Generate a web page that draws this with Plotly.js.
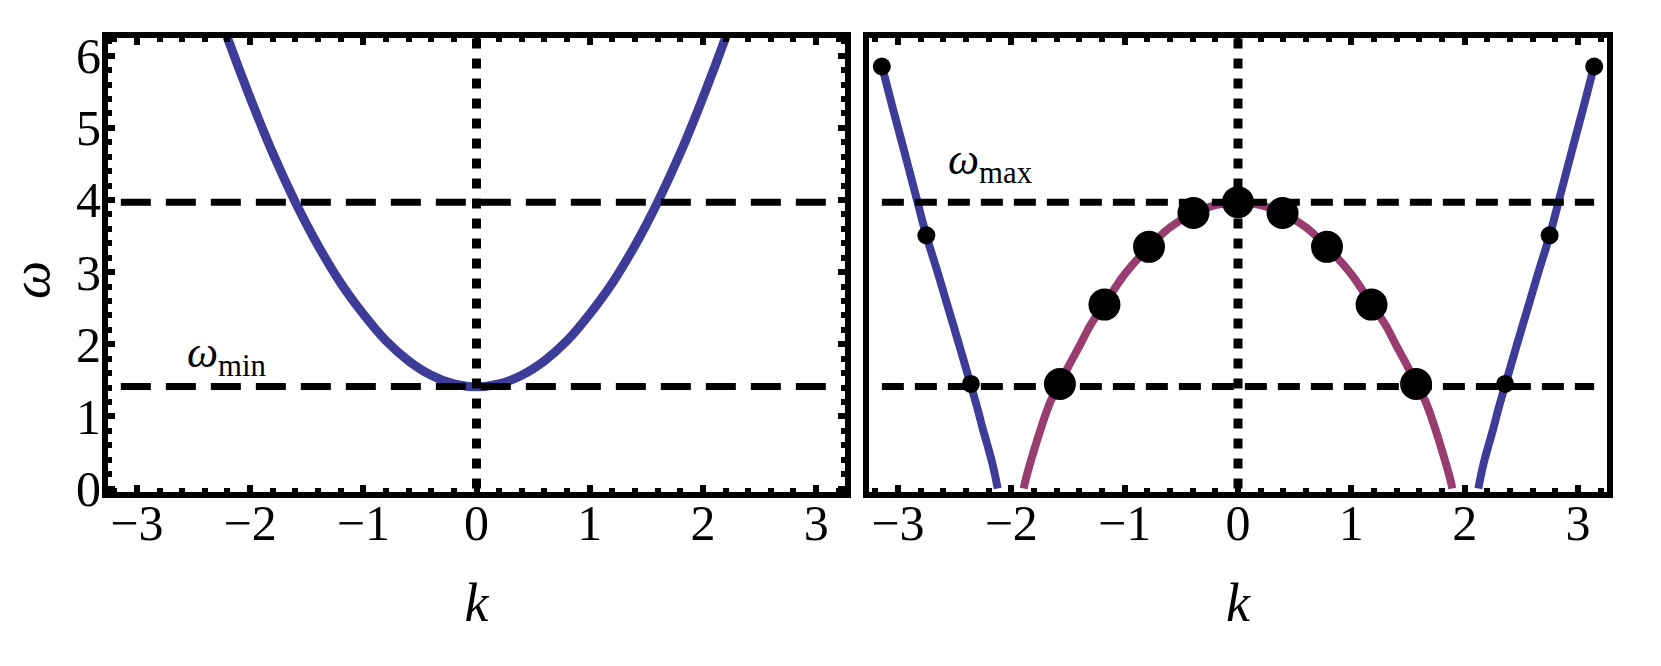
<!DOCTYPE html>
<html><head><meta charset="utf-8">
<script src="https://cdn.plot.ly/plotly-3.0.1.min.js"></script>
<style>html,body{margin:0;padding:0;background:#fff}</style>
</head><body><div id="chart" style="width:1661px;height:666px"></div>
<script>
// Reference levels
const omegaMin = 1.414;
const omegaMax = 3.97;
const kEdge = 3.1416;
const omegaTop = 6.2832;

// Left panel: continuum dispersion
const leftK =     [-2.3, -2.2, -2.0, -1.8, -1.6, -1.4, -1.2, -1.0, -0.8, -0.6, -0.4, -0.2, 0.0, 0.2, 0.4, 0.6, 0.8, 1.0, 1.2, 1.4, 1.6, 1.8, 2.0, 2.2, 2.3];
const leftOmega = [6.70, 6.25, 5.42, 4.65, 3.97, 3.37, 2.85, 2.42, 2.05, 1.77, 1.57, 1.45, 1.41, 1.45, 1.57, 1.77, 2.05, 2.42, 2.85, 3.37, 3.97, 4.65, 5.42, 6.25, 6.70];

// Right panel: blue outer branches
const blueLeftK =      [-3.14, -3.05, -2.95, -2.85, -2.75, -2.65, -2.55, -2.45, -2.36, -2.30, -2.25, -2.21, -2.17, -2.14, -2.12];
const blueLeftOmega =  [5.85, 5.30, 4.71, 4.11, 3.51, 3.00, 2.47, 1.94, 1.45, 1.12, 0.82, 0.60, 0.37, 0.16, 0.00];
const blueRightK =     [2.12, 2.14, 2.17, 2.21, 2.25, 2.30, 2.36, 2.45, 2.55, 2.65, 2.75, 2.85, 2.95, 3.05, 3.14];
const blueRightOmega = [0.00, 0.16, 0.37, 0.60, 0.82, 1.12, 1.45, 1.94, 2.47, 3.00, 3.51, 4.11, 4.71, 5.30, 5.85];

// Right panel: magenta arc
const arcK =     [-1.89, -1.88, -1.86, -1.82, -1.77, -1.71, -1.65, -1.57, -1.50, -1.40, -1.30, -1.18, -1.00, -0.785, -0.60, -0.39, -0.20, 0.00, 0.20, 0.39, 0.60, 0.785, 1.00, 1.18, 1.30, 1.40, 1.50, 1.57, 1.65, 1.71, 1.77, 1.82, 1.86, 1.88, 1.89];
const arcOmega = [0.00, 0.08, 0.20, 0.42, 0.68, 0.97, 1.22, 1.45, 1.68, 1.97, 2.27, 2.55, 2.97, 3.35, 3.62, 3.82, 3.93, 3.97, 3.93, 3.82, 3.62, 3.35, 2.97, 2.55, 2.27, 1.97, 1.68, 1.45, 1.22, 0.97, 0.68, 0.42, 0.20, 0.08, 0.00];

// Sampled points
const bigDotK =     [-1.571, -1.178, -0.785, -0.393, 0.0, 0.393, 0.785, 1.178, 1.571];
const bigDotOmega = [1.45, 2.55, 3.35, 3.82, 3.97, 3.82, 3.35, 2.55, 1.45];
const smallDotK =     [-3.142, -2.749, -2.356, 2.356, 2.749, 3.142];
const smallDotOmega = [5.85, 3.51, 1.45, 1.45, 3.51, 5.85];

const xTicks = [-3, -2, -1, 0, 1, 2, 3];
const yTicks = [0, 1, 2, 3, 4, 5, 6];

const BLUE = '#3d3d99';
const MAGENTA = '#993d71';

function line(x, y, xa, ya, color, width, dash, shape) {
  return {x: x, y: y, xaxis: xa, yaxis: ya, type: 'scatter', mode: 'lines', hoverinfo: 'skip',
          line: {color: color, width: width, dash: dash || 'solid', shape: shape || 'linear'}};
}

const traces = [
  line(leftK, leftOmega, 'x', 'y', BLUE, 9, 'solid', 'spline'),
  line([-kEdge, kEdge], [omegaMin, omegaMin], 'x', 'y', 'black', 7, '30px,15px'),
  line([-kEdge, kEdge], [omegaMax, omegaMax], 'x', 'y', 'black', 7, '30px,15px'),
  line([0, 0], [0, omegaTop], 'x', 'y', 'black', 9, '10px,10px'),

  line(blueLeftK, blueLeftOmega, 'x2', 'y2', BLUE, 8, 'solid', 'spline'),
  line(blueRightK, blueRightOmega, 'x2', 'y2', BLUE, 8, 'solid', 'spline'),
  line(arcK, arcOmega, 'x2', 'y2', MAGENTA, 8, 'solid', 'spline'),
  line([-kEdge, kEdge], [omegaMin, omegaMin], 'x2', 'y2', 'black', 7, '22px,11px'),
  line([-kEdge, kEdge], [omegaMax, omegaMax], 'x2', 'y2', 'black', 7, '22px,11px'),
  line([0, 0], [0, omegaTop], 'x2', 'y2', 'black', 9, '10px,10px'),
  {x: bigDotK, y: bigDotOmega, xaxis: 'x2', yaxis: 'y2', type: 'scatter', mode: 'markers', hoverinfo: 'skip',
   marker: {color: 'black', size: 32}},
  {x: smallDotK, y: smallDotOmega, xaxis: 'x2', yaxis: 'y2', type: 'scatter', mode: 'markers', hoverinfo: 'skip',
   marker: {color: 'black', size: 18}}
];

const FONT = 'Liberation Serif';
const W = 1661, H = 666;
const yDom = [(H - 491.5) / H, (H - 37.8) / H];

function xAxis(dom, anchor) {
  return {
    domain: dom, anchor: anchor, range: [-3.255, 3.255],
    showline: true, linewidth: 6, linecolor: 'black', mirror: 'ticks',
    ticks: 'inside', ticklen: 7, tickwidth: 6, tickcolor: 'black',
    tickmode: 'array', tickvals: xTicks,
    minor: {dtick: 0.2, tick0: 0, ticks: 'inside', ticklen: 4, tickwidth: 6, tickcolor: 'black', showgrid: false},
    showgrid: false, zeroline: false,
    tickfont: {family: FONT, size: 50, color: 'black'},
    ticklabelstandoff: -18,
    title: {text: '<i>k</i>', font: {family: FONT, size: 54, color: 'black'}, standoff: 36},
    fixedrange: true
  };
}

const layout = {
  width: W, height: H,
  margin: {l: 0, r: 0, t: 0, b: 0},
  showlegend: false,
  paper_bgcolor: 'white', plot_bgcolor: 'white',
  font: {family: FONT, color: 'black'},
  xaxis: xAxis([108 / W, 845 / W], 'y'),
  xaxis2: xAxis([869 / W, 1607 / W], 'y2'),
  yaxis: {
    domain: yDom, anchor: 'x', range: [-0.041, 6.248],
    showline: true, linewidth: 6, linecolor: 'black', mirror: 'ticks',
    ticks: 'inside', ticklen: 7, tickwidth: 6, tickcolor: 'black',
    tickmode: 'array', tickvals: yTicks,
    minor: {dtick: 0.2, tick0: 0, ticks: 'inside', ticklen: 4, tickwidth: 6, tickcolor: 'black', showgrid: false},
    showgrid: false, zeroline: false,
    tickfont: {family: FONT, size: 50, color: 'black'},
    ticklabelstandoff: -9,
    fixedrange: true
  },
  yaxis2: {
    domain: yDom, anchor: 'x2', range: [-0.041, 6.248],
    showline: true, linewidth: 6, linecolor: 'black', mirror: true,
    ticks: '', showticklabels: false, showgrid: false, zeroline: false, fixedrange: true
  },
  annotations: [
    {xref: 'paper', yref: 'paper', x: 31 / W, y: (H - 280) / H, text: '<i>ω</i>', textangle: -90,
     showarrow: false, xanchor: 'center', yanchor: 'middle',
     font: {family: FONT, size: 54, color: 'black'}},
    {xref: 'x', yref: 'y', x: -2.21, y: 1.84, text: '<i>ω</i><sub>min</sub>', showarrow: false,
     font: {family: FONT, size: 44, color: 'black'}},
    {xref: 'x2', yref: 'y2', x: -2.18, y: 4.52, text: '<i>ω</i><sub>max</sub>', showarrow: false,
     font: {family: FONT, size: 44, color: 'black'}}
  ]
};

Plotly.newPlot('chart', traces, layout, {displayModeBar: false, staticPlot: true});
</script></body></html>
